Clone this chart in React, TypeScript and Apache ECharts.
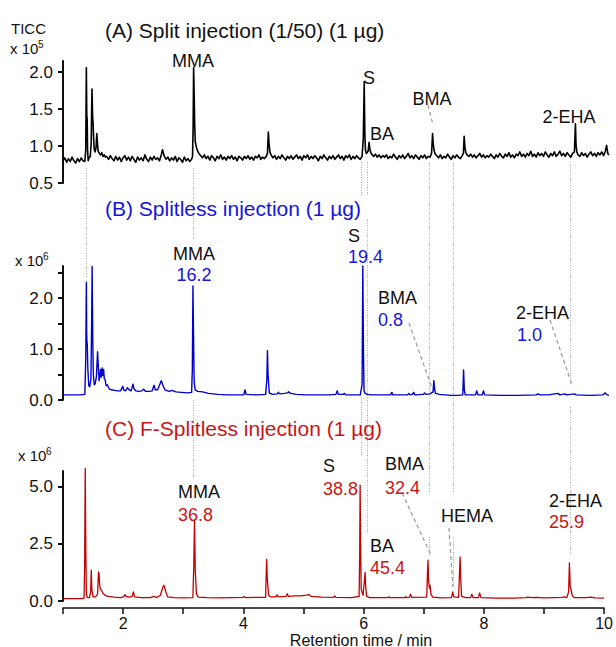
import React, { useEffect, useRef } from "react";
import * as echarts from "echarts";

const FONT = '"Liberation Sans", Arial, Helvetica, sans-serif';

// (A) Split injection (1/50), TICC x 10^5
const splitTrace: [number, number][] = [
  [1.00,0.80],[1.03,0.84],[1.06,0.78],[1.09,0.83],[1.12,0.79],[1.15,0.85],[1.18,0.80],[1.21,0.77],[1.24,0.83],[1.27,0.79],[1.30,0.84],[1.33,0.80],[1.36,0.79],
  [1.375,0.95],[1.385,2.06],[1.392,1.40],[1.398,1.38],[1.405,0.95],[1.415,0.80],[1.43,0.84],[1.45,0.86],[1.465,1.05],[1.478,1.77],[1.488,1.40],[1.495,1.32],[1.505,1.10],[1.515,0.95],[1.53,0.92],[1.545,0.98],[1.557,1.17],[1.567,1.05],[1.58,0.93],[1.60,0.90],[1.62,0.88],[1.64,0.91],[1.66,0.86],[1.68,0.88],[1.70,0.85],
  [1.72,0.86],[1.75,0.82],[1.78,0.87],[1.81,0.83],[1.84,0.80],[1.87,0.86],[1.90,0.81],[1.93,0.85],[1.96,0.79],[1.99,0.84],[2.02,0.87],[2.05,0.81],[2.08,0.85],[2.11,0.80],[2.14,0.86],[2.17,0.82],[2.20,0.78],[2.23,0.85],[2.26,0.81],[2.29,0.84],[2.32,0.80],[2.35,0.88],[2.38,0.82],[2.41,0.79],[2.44,0.85],[2.47,0.81],[2.50,0.86],[2.53,0.82],[2.56,0.84],[2.59,0.80],[2.62,0.88],[2.64,0.95],[2.67,0.86],[2.70,0.82],[2.73,0.85],[2.76,0.80],[2.79,0.84],[2.82,0.81],[2.85,0.86],[2.88,0.79],[2.91,0.84],[2.94,0.82],[2.97,0.78],[3.00,0.85],[3.03,0.80],[3.06,0.83],[3.09,0.79],[3.12,0.82],
  [3.135,0.86],[3.145,1.25],[3.153,2.06],[3.162,1.70],[3.17,1.30],[3.18,1.06],[3.20,0.98],[3.22,0.93],[3.24,0.90],[3.27,0.87],[3.30,0.84],
  [3.33,0.88],[3.36,0.83],[3.39,0.86],[3.42,0.81],[3.45,0.87],[3.48,0.84],[3.51,0.80],[3.54,0.86],[3.57,0.83],[3.60,0.88],[3.63,0.82],[3.66,0.85],[3.69,0.81],[3.72,0.86],[3.75,0.83],[3.78,0.87],[3.81,0.82],[3.84,0.85],[3.87,0.80],[3.90,0.86],[3.93,0.84],[3.96,0.81],[3.99,0.86],[4.02,0.83],[4.05,0.87],[4.08,0.82],[4.11,0.85],[4.14,0.81],[4.17,0.86],[4.20,0.84],[4.23,0.88],[4.26,0.82],[4.29,0.85],[4.32,0.83],[4.35,0.86],
  [4.37,0.90],[4.385,1.19],[4.395,1.05],[4.41,0.92],[4.43,0.88],[4.46,0.84],
  [4.49,0.87],[4.52,0.82],[4.55,0.86],[4.58,0.83],[4.61,0.88],[4.64,0.84],[4.67,0.81],[4.70,0.86],[4.73,0.83],[4.76,0.87],[4.79,0.82],[4.82,0.85],[4.85,0.88],[4.88,0.83],[4.91,0.86],[4.94,0.81],[4.97,0.87],[5.00,0.84],[5.03,0.88],[5.06,0.82],[5.09,0.86],[5.12,0.83],[5.15,0.87],[5.18,0.84],[5.21,0.80],[5.24,0.86],[5.27,0.83],[5.30,0.88],[5.33,0.84],[5.36,0.81],[5.39,0.86],[5.42,0.83],[5.45,0.87],[5.48,0.82],[5.51,0.85],[5.54,0.88],[5.57,0.83],[5.60,0.86],[5.63,0.81],[5.66,0.87],[5.69,0.84],[5.72,0.88],[5.75,0.82],[5.78,0.86],[5.81,0.83],[5.84,0.87],[5.87,0.84],[5.90,0.82],[5.93,0.86],
  [5.95,1.10],[5.965,1.87],[5.975,1.20],[5.985,0.95],[6.00,0.90],[6.03,0.93],[6.045,1.05],[6.06,0.95],[6.08,0.90],[6.10,0.88],[6.12,0.86],
  [6.15,0.89],[6.18,0.85],[6.21,0.88],[6.24,0.84],[6.27,0.87],[6.30,0.85],[6.33,0.88],[6.36,0.83],[6.39,0.86],[6.42,0.84],[6.45,0.89],[6.48,0.85],[6.51,0.82],[6.54,0.87],[6.57,0.84],[6.60,0.88],[6.63,0.83],[6.66,0.86],[6.69,0.90],[6.72,0.84],[6.75,0.87],[6.78,0.83],[6.81,0.88],[6.84,0.85],[6.87,0.82],[6.90,0.87],[6.93,0.84],[6.96,0.88],[6.99,0.83],[7.02,0.86],[7.05,0.85],
  [7.075,0.90],[7.092,1.17],[7.10,1.05],[7.115,0.95],[7.13,0.90],[7.16,0.87],
  [7.19,0.84],[7.22,0.88],[7.25,0.83],[7.28,0.86],[7.31,0.84],[7.34,0.89],[7.37,0.85],[7.40,0.82],[7.43,0.87],[7.46,0.84],[7.49,0.88],[7.52,0.85],[7.55,0.83],[7.58,0.87],
  [7.60,0.90],[7.612,1.13],[7.625,0.98],[7.64,0.91],[7.66,0.88],
  [7.69,0.86],[7.72,0.89],[7.75,0.85],[7.78,0.88],[7.81,0.84],[7.84,0.87],[7.87,0.90],[7.90,0.85],[7.93,0.88],[7.96,0.84],[7.99,0.87],[8.02,0.85],[8.05,0.89],[8.08,0.86],[8.11,0.83],[8.14,0.88],[8.17,0.85],[8.20,0.90],[8.23,0.86],[8.26,0.84],[8.29,0.89],[8.32,0.86],[8.35,0.91],[8.38,0.85],[8.41,0.88],[8.44,0.84],[8.47,0.89],[8.50,0.87],[8.53,0.92],[8.56,0.86],[8.59,0.89],[8.62,0.85],[8.65,0.90],[8.68,0.87],[8.71,0.93],[8.74,0.86],[8.77,0.89],[8.80,0.85],[8.83,0.91],[8.86,0.87],[8.89,0.90],[8.92,0.86],[8.95,0.92],[8.98,0.88],[9.01,0.85],[9.04,0.90],[9.07,0.87],[9.10,0.92],[9.13,0.86],[9.16,0.89],[9.19,0.93],[9.22,0.87],[9.25,0.90],[9.28,0.86],[9.31,0.91],[9.34,0.88],[9.37,0.85],[9.40,0.90],
  [9.43,0.92],[9.447,1.30],[9.456,1.02],[9.47,0.92],[9.49,0.88],
  [9.52,0.86],[9.55,0.91],[9.58,0.87],[9.61,0.90],[9.64,0.85],[9.67,0.89],[9.70,0.92],[9.73,0.87],[9.76,0.90],[9.79,0.86],[9.82,0.91],[9.85,0.88],[9.88,0.92],[9.91,0.87],[9.94,0.93],[9.96,1.01],[9.98,0.90],[10.00,0.88],
];

// (B) Splitless injection, x 10^6
const splitlessTrace: [number, number][] = [
  [1.00,0.10],[1.30,0.10],[1.36,0.11],[1.375,0.80],[1.385,2.31],[1.39,1.30],[1.395,1.14],[1.40,1.10],[1.41,0.60],[1.425,0.28],[1.44,0.26],[1.46,0.40],[1.472,1.50],[1.48,2.62],[1.49,1.20],[1.50,0.50],[1.515,0.30],[1.53,0.32],[1.55,0.45],[1.57,0.95],[1.58,0.70],[1.595,0.38],[1.605,0.45],[1.62,0.60],[1.63,0.45],[1.645,0.63],[1.655,0.48],[1.67,0.60],[1.68,0.42],[1.695,0.40],[1.71,0.28],[1.73,0.30],[1.76,0.22],[1.80,0.20],[1.85,0.19],[1.90,0.18],[1.95,0.18],[1.985,0.27],[2.00,0.20],[2.03,0.18],[2.06,0.24],[2.09,0.20],[2.12,0.18],[2.155,0.31],[2.17,0.22],[2.20,0.18],[2.25,0.17],[2.30,0.18],[2.33,0.21],[2.36,0.17],[2.42,0.17],[2.47,0.18],[2.50,0.29],[2.52,0.20],[2.56,0.20],[2.60,0.32],[2.62,0.38],[2.65,0.28],[2.68,0.20],[2.75,0.17],[2.80,0.19],[2.86,0.16],[2.95,0.15],[3.05,0.14],[3.12,0.15],[3.132,0.60],[3.142,2.24],[3.152,1.20],[3.162,0.35],[3.18,0.20],[3.22,0.17],[3.30,0.16],[3.40,0.13],[3.55,0.11],[3.70,0.10],[3.85,0.10],[3.98,0.10],[4.00,0.20],[4.02,0.11],[4.20,0.10],[4.34,0.11],[4.36,0.40],[4.37,0.97],[4.38,0.50],[4.40,0.14],[4.45,0.11],[4.53,0.12],[4.55,0.15],[4.57,0.12],[4.65,0.13],[4.70,0.14],[4.72,0.16],[4.75,0.13],[4.85,0.11],[5.00,0.10],
  [5.20,0.10],[5.40,0.10],[5.50,0.11],[5.52,0.18],[5.54,0.11],[5.62,0.11],[5.64,0.13],[5.66,0.10],[5.90,0.10],[5.93,0.30],[5.942,2.63],[5.952,1.00],[5.962,0.18],[5.98,0.13],[6.02,0.11],[6.10,0.10],[6.40,0.10],[6.42,0.15],[6.44,0.10],[6.68,0.10],[6.70,0.13],[6.72,0.10],[6.76,0.11],[6.78,0.15],[6.80,0.10],[6.94,0.11],[6.96,0.14],[6.98,0.11],[7.05,0.12],[7.10,0.16],[7.113,0.38],[7.125,0.22],[7.14,0.13],[7.20,0.11],[7.40,0.09],[7.50,0.09],[7.59,0.10],[7.603,0.59],[7.615,0.20],[7.63,0.10],[7.80,0.10],[7.82,0.18],[7.84,0.10],[7.91,0.10],[7.93,0.18],[7.95,0.10],[8.20,0.09],[8.50,0.09],[8.80,0.10],[8.83,0.12],[8.86,0.10],[9.00,0.10],[9.16,0.13],[9.19,0.10],[9.27,0.12],[9.30,0.10],[9.43,0.12],[9.46,0.10],[9.70,0.09],[9.90,0.10],[9.94,0.14],[9.97,0.10],[10.00,0.09],
];

// (C) F-Splitless injection, x 10^6
const fSplitlessTrace: [number, number][] = [
  [1.00,0.10],[1.30,0.10],[1.35,0.12],[1.36,1.50],[1.37,5.80],[1.38,2.00],[1.39,0.25],[1.41,0.15],[1.44,0.15],[1.46,0.40],[1.47,1.35],[1.48,0.50],[1.50,0.18],[1.54,0.18],[1.575,0.30],[1.59,1.27],[1.60,1.20],[1.61,0.70],[1.62,0.55],[1.64,0.47],[1.67,0.32],[1.70,0.25],[1.75,0.20],[1.85,0.17],[1.95,0.15],[2.01,0.18],[2.03,0.28],[2.05,0.20],[2.10,0.17],[2.15,0.20],[2.17,0.40],[2.19,0.18],[2.30,0.15],[2.45,0.15],[2.52,0.20],[2.55,0.15],[2.62,0.25],[2.66,0.60],[2.68,0.69],[2.71,0.40],[2.74,0.18],[2.85,0.15],[3.00,0.14],[3.16,0.15],[3.175,1.50],[3.187,3.54],[3.20,1.30],[3.22,0.30],[3.25,0.17],[3.40,0.15],[3.60,0.14],[3.80,0.15],[3.99,0.16],[4.01,0.20],[4.03,0.15],[4.37,0.16],[4.38,1.20],[4.388,1.83],[4.397,1.00],[4.42,0.25],[4.45,0.18],[4.54,0.18],[4.56,0.27],[4.58,0.18],[4.71,0.20],[4.73,0.32],[4.75,0.20],[4.85,0.22],[4.95,0.22],[5.05,0.26],[5.09,0.28],[5.13,0.20],[5.30,0.17],[5.50,0.16],[5.52,0.22],[5.54,0.16],[5.80,0.15],[5.925,0.20],[5.935,2.00],[5.942,5.07],[5.95,2.50],[5.96,0.50],[5.99,0.25],[6.01,0.80],[6.025,1.25],[6.035,0.60],[6.05,0.20],[6.10,0.15],[6.40,0.15],[6.42,0.18],[6.44,0.15],[6.68,0.15],[6.70,0.18],[6.72,0.15],[6.76,0.16],[6.78,0.30],[6.80,0.16],[7.05,0.17],[7.062,1.20],[7.071,1.79],[7.08,0.90],[7.095,0.55],[7.105,0.69],[7.12,0.30],[7.15,0.17],[7.30,0.14],[7.46,0.15],[7.483,0.40],[7.50,0.18],[7.58,0.16],[7.595,1.20],[7.605,1.93],[7.615,1.00],[7.63,0.20],[7.70,0.15],[7.78,0.15],[7.80,0.30],[7.82,0.15],[7.91,0.15],[7.93,0.35],[7.95,0.15],[8.20,0.13],[8.50,0.13],[8.70,0.15],[8.73,0.17],[8.80,0.15],[8.88,0.16],[9.00,0.14],[9.15,0.15],[9.30,0.16],[9.34,0.18],[9.38,0.15],[9.41,0.40],[9.423,1.67],[9.437,0.60],[9.45,0.51],[9.47,0.25],[9.50,0.15],[9.70,0.15],[9.78,0.17],[9.85,0.14],[10.00,0.13],
];

// axis ticks
const xTicks = [1, 2, 3, 4, 5, 6, 7, 8, 9, 10];
const xLabels = [2, 4, 6, 8, 10];
const yTicksA = [0.5, 1.0, 1.5, 2.0];
const yTicksB = [0, 0.5, 1.0, 1.5, 2.0, 2.5];
const yLabelsB = [0, 1.0, 2.0];
const yTicksC = [0, 2.5, 5.0];

// retention times of the marked compounds (min)
const markerTimes = { first: 1.385, MMA: 3.17, S: 5.962, BA: 6.061, BMA: 7.086, HEMA: 7.483, EHA: 9.433 };

// layout of annotation guides (pixel y ranges)
const guideSegments: [number, number, number][] = [
  [markerTimes.first, 168, 278],
  [markerTimes.MMA, 168, 240],
  [markerTimes.MMA, 400, 480],
  [markerTimes.S, 162, 195],
  [markerTimes.S, 397, 457],
  [markerTimes.BA, 162, 195],
  [markerTimes.BA, 220, 533],
  [markerTimes.BMA, 163, 493],
  [markerTimes.BMA, 537, 557],
  [markerTimes.HEMA, 163, 493],
  [markerTimes.HEMA, 537, 587],
  [markerTimes.EHA, 165, 385],
  [markerTimes.EHA, 407, 555],
];
const leaderLines: [number, number, number, number][] = [
  [428, 105, 433, 125],
  [409, 323, 432, 388],
  [550, 320, 572, 385],
  [402, 493, 431, 555],
  [449, 528, 453, 587],
];

const BLACK = "#111111";
const BLUE = "#1414e0";
const RED = "#cc1414";

type Lab = [string, number, number, string, "left" | "center"];
const labels: Lab[] = [
  // panel A
  ["MMA", 193, 61, BLACK, "center"],
  ["S", 369, 78, BLACK, "center"],
  ["BA", 382, 134, BLACK, "center"],
  ["BMA", 432, 99, BLACK, "center"],
  ["2-EHA", 569, 117, BLACK, "center"],
  // panel B
  ["MMA", 194, 254, BLACK, "center"],
  ["16.2", 194, 275, BLUE, "center"],
  ["S", 348, 236, BLACK, "left"],
  ["19.4", 348, 257, BLUE, "left"],
  ["BMA", 378, 298, BLACK, "left"],
  ["0.8", 378, 320, BLUE, "left"],
  ["2-EHA", 516, 313, BLACK, "left"],
  ["1.0", 517, 335, BLUE, "left"],
  // panel C
  ["MMA", 178, 492, BLACK, "left"],
  ["36.8", 178, 515, RED, "left"],
  ["S", 323, 466, BLACK, "left"],
  ["38.8", 323, 489, RED, "left"],
  ["BMA", 385, 464, BLACK, "left"],
  ["32.4", 385, 488, RED, "left"],
  ["BA", 370, 546, BLACK, "left"],
  ["45.4", 370, 568, RED, "left"],
  ["HEMA", 441, 516, BLACK, "left"],
  ["2-EHA", 549, 501, BLACK, "left"],
  ["25.9", 549, 522, RED, "left"],
];

const titles: [string, number, number, string][] = [
  ["(A) Split injection (1/50) (1 µg)", 105, 30, BLACK],
  ["(B) Splitless injection (1 µg)", 105, 208, BLUE],
  ["(C) F-Splitless injection (1 µg)", 105, 428, RED],
];

function txt(text: string, x: number, y: number, color: string, size: number, align = "left") {
  return {
    type: "text",
    x,
    y,
    z: 20,
    silent: true,
    style: {
      text,
      fill: color,
      font: `${size}px ${FONT}`,
      fontSize: size,
      fontFamily: FONT,
      align,
      textAlign: align,
      verticalAlign: "middle",
      textVerticalAlign: "middle",
    },
  };
}

function yAxisFor(gridIndex: number, min: number, max: number, ticks: number[], labelVals: number[]) {
  return {
    type: "value",
    gridIndex,
    min,
    max,
    splitLine: { show: false },
    axisLine: { show: true, lineStyle: { color: "#111", width: 2 } },
    axisTick: { show: true, customValues: ticks, length: 5, lineStyle: { color: "#111", width: 2 } },
    axisLabel: {
      customValues: labelVals,
      formatter: (v: number) => v.toFixed(1),
      fontSize: 17,
      fontFamily: FONT,
      color: "#111",
      margin: 10,
    },
  };
}

function xAxisFor(gridIndex: number, show: boolean) {
  return {
    type: "value",
    gridIndex,
    min: 1,
    max: 10,
    show,
    offset: show ? 7 : 0,
    splitLine: { show: false },
    axisLine: { show, onZero: false, lineStyle: { color: "#111", width: 1.5 } },
    axisTick: { show, customValues: xTicks, length: 6, lineStyle: { color: "#111", width: 1.5 } },
    axisLabel: { show, customValues: xLabels, fontSize: 16, fontFamily: FONT, color: "#111", margin: 7 },
  };
}

function lineSeries(idx: number, data: [number, number][], color: string, width: number) {
  return {
    type: "line",
    xAxisIndex: idx,
    yAxisIndex: idx,
    data,
    showSymbol: false,
    symbol: "none",
    clip: false,
    z: 5,
    lineStyle: { color, width, join: "round" },
    emphasis: { disabled: true },
  };
}

export default function App() {
  const ref = useRef<HTMLDivElement>(null);
  useEffect(() => {
    if (!ref.current) return;
    const chart = echarts.init(ref.current, null, { renderer: "svg" });
    chart.setOption({
      animation: false,
      backgroundColor: "#ffffff",
      grid: [
        { left: 63, right: 7, top: 61, height: 122 },
        { left: 63, right: 7, top: 266, height: 134 },
        { left: 63, right: 7, top: 471, height: 130 },
      ],
      xAxis: [xAxisFor(0, false), xAxisFor(1, false), xAxisFor(2, true)],
      yAxis: [
        yAxisFor(0, 0.5, 2.15, yTicksA, yTicksA),
        yAxisFor(1, 0, 2.63, yTicksB, yLabelsB),
        yAxisFor(2, 0, 5.69, yTicksC, yTicksC),
      ],
      series: [
        lineSeries(0, splitTrace, "#000000", 1.6),
        lineSeries(1, splitlessTrace, "#0000cc", 1.4),
        lineSeries(2, fSplitlessTrace, "#c40000", 1.3),
      ],
    });

    const px = (t: number) => chart.convertToPixel({ xAxisIndex: 2 }, t) as number;
    const elements: any[] = [];
    guideSegments.forEach(([t, y1, y2]) => {
      const x = Math.round(px(t)) + 0.5;
      elements.push({
        type: "line",
        z: 1,
        silent: true,
        shape: { x1: x, y1, x2: x, y2 },
        style: { stroke: "#a8a8a8", lineWidth: 1, lineDash: [1, 1.5] },
      });
    });
    leaderLines.forEach(([x1, y1, x2, y2]) => {
      elements.push({
        type: "line",
        z: 1,
        silent: true,
        shape: { x1, y1, x2, y2 },
        style: { stroke: "#9a9a9a", lineWidth: 1.2, lineDash: [4, 3] },
      });
    });
    labels.forEach(([t, x, y, c, a]) => elements.push(txt(t, x, y, c, 18, a)));
    titles.forEach(([t, x, y, c]) => elements.push(txt(t, x, y, c, 21)));
    elements.push(txt("TICC", 11, 28, BLACK, 15));
    elements.push(txt("x 10", 10, 48, BLACK, 15));
    elements.push(txt("5", 38, 44, BLACK, 10));
    elements.push(txt("x 10", 15, 260, BLACK, 15));
    elements.push(txt("6", 43, 256, BLACK, 10));
    elements.push(txt("x 10", 18, 455, BLACK, 15));
    elements.push(txt("6", 46, 451, BLACK, 10));
    elements.push(txt("Retention time / min", 361, 640, BLACK, 16, "center"));
    chart.setOption({ graphic: { elements } });

    return () => chart.dispose();
  }, []);
  return <div ref={ref} style={{ position: "fixed", left: 0, top: 0, width: 616, height: 647 }} />;
}
